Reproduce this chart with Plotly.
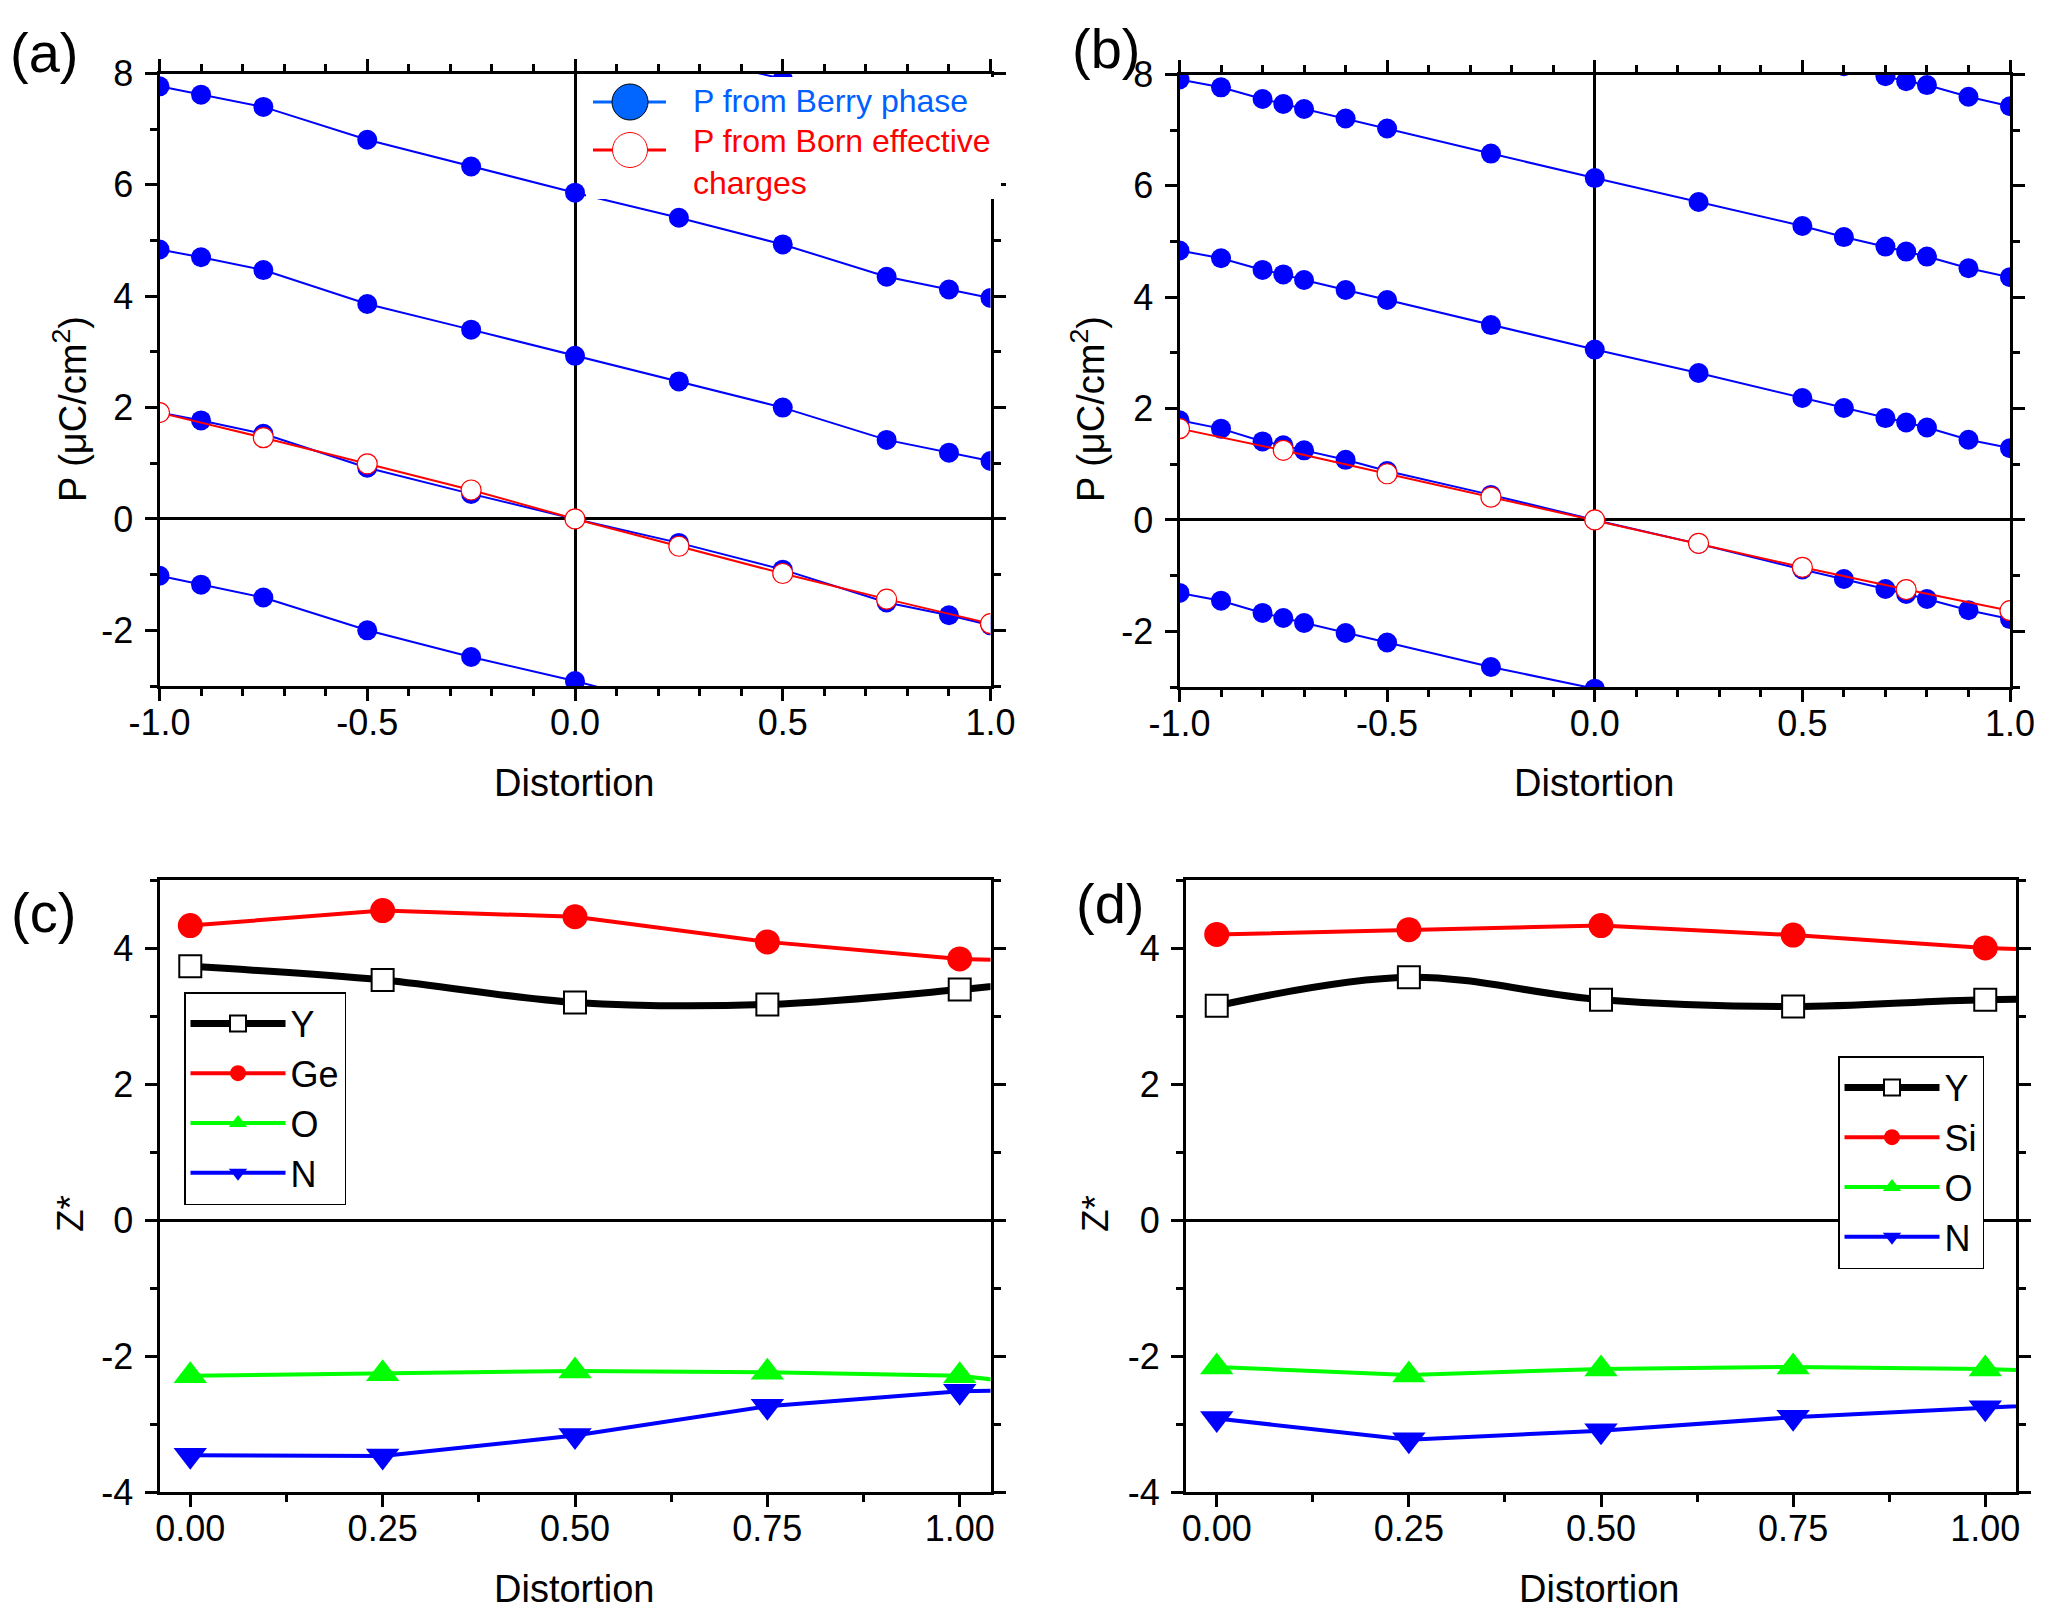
import plotly.graph_objects as go

W, H = 2052, 1620
OFF = 8  # page body margin offset of the rendered figure
FONT = "Liberation Sans, Arial, sans-serif"

# ---------------- data: panel (a) ----------------
a_x = [-1.0, -0.9, -0.75, -0.5, -0.25, 0.0, 0.25, 0.5, 0.75, 0.9, 1.0]
a_b0 = [None, None, None, None, None, None, 8.35, 7.90, 7.28, 7.05, 6.90]
a_b1 = [7.77, 7.62, 7.40, 6.81, 6.33, 5.86, 5.41, 4.93, 4.35, 4.12, 3.97]
a_b2 = [4.84, 4.70, 4.47, 3.86, 3.40, 2.93, 2.47, 2.00, 1.42, 1.19, 1.04]
a_b3 = [1.91, 1.77, 1.53, 0.92, 0.45, 0.00, -0.43, -0.91, -1.50, -1.73, -1.91]
a_b4 = [-1.02, -1.18, -1.41, -2.00, -2.48, -2.91, -3.40, None, None, None, None]
a_born_x = [-1.0, -0.75, -0.5, -0.25, 0.0, 0.25, 0.5, 0.75, 1.0]
a_born = [1.91, 1.46, 0.99, 0.52, 0.0, -0.49, -0.98, -1.44, -1.88]

# ---------------- data: panel (b) ----------------
b_x = [-1.0, -0.9, -0.8, -0.75, -0.7, -0.6, -0.5, -0.25, 0.0, 0.25, 0.5, 0.6, 0.7, 0.75, 0.8, 0.9, 1.0]
b_b0 = [None] * 10 + [8.35, 8.15, 7.97, 7.88, 7.81, 7.60, 7.43]
b_b1 = [7.91, 7.77, 7.56, 7.47, 7.38, 7.21, 7.03, 6.58, 6.14, 5.71, 5.28, 5.08, 4.91, 4.82, 4.73, 4.52, 4.36]
b_b2 = [4.84, 4.70, 4.49, 4.41, 4.31, 4.13, 3.95, 3.50, 3.06, 2.64, 2.19, 2.01, 1.83, 1.75, 1.66, 1.44, 1.29]
b_b3 = [1.79, 1.64, 1.41, 1.34, 1.25, 1.08, 0.88, 0.45, 0.00, -0.43, -0.89, -1.06, -1.24, -1.33, -1.42, -1.62, -1.78]
b_b4 = [-1.31, -1.45, -1.67, -1.76, -1.85, -2.03, -2.20, -2.64, -3.03, -3.46] + [None] * 7
b_born_x = [-1.0, -0.75, -0.5, -0.25, 0.0, 0.25, 0.5, 0.75, 1.0]
b_born = [1.64, 1.25, 0.83, 0.41, 0.0, -0.42, -0.85, -1.25, -1.63]

# ---------------- data: panels (c) and (d) ----------------
z_x = [0.0, 0.25, 0.5, 0.75, 1.0, 1.25]
c_Y = [3.73, 3.53, 3.20, 3.17, 3.39, 3.70]
c_Ge = [4.33, 4.55, 4.46, 4.09, 3.84, 3.76]
c_O = [-2.29, -2.26, -2.22, -2.24, -2.29, -2.62]
c_N = [-3.46, -3.47, -3.17, -2.74, -2.52, -2.47]
d_Y = [3.15, 3.57, 3.24, 3.14, 3.24, 3.24]
d_Si = [4.20, 4.27, 4.33, 4.19, 4.00, 3.90]
d_O = [-2.16, -2.28, -2.19, -2.16, -2.19, -2.30]
d_N = [-2.92, -3.23, -3.10, -2.90, -2.76, -2.62]

# ---------------- tick labels ----------------
p_xticks = [-1.0, -0.5, 0.0, 0.5, 1.0]
p_xtext = ["-1.0", "-0.5", "0.0", "0.5", "1.0"]
p_yticks = [-2, 0, 2, 4, 6, 8]
p_ytext = ["-2", "0", "2", "4", "6", "8"]
z_xticks = [0.0, 0.25, 0.5, 0.75, 1.0]
z_xtext = ["0.00", "0.25", "0.50", "0.75", "1.00"]
z_yticks = [-4, -2, 0, 2, 4]
z_ytext = ["-4", "-2", "0", "2", "4"]

BLUE = "#0000FF"
RED = "#FF0000"
GREEN = "#00FF00"


def px(x):
    return (x - OFF) / W


def py(y):
    return 1 - (y - OFF) / H


def xd(p0, p1):
    return [px(p0), px(p1)]


def yd(p0, p1):
    return [py(p1), py(p0)]


fig = go.Figure()

# panel (a) and (b) Berry-phase branches + Born traces
for xa, ya, xs, branches, bx, by in [
    ("x", "y", a_x, [a_b0, a_b1, a_b2, a_b3, a_b4], a_born_x, a_born),
    ("x2", "y2", b_x, [b_b0, b_b1, b_b2, b_b3, b_b4], b_born_x, b_born),
]:
    for br in branches:
        fig.add_trace(go.Scatter(
            x=xs, y=br, xaxis=xa, yaxis=ya, mode="lines+markers",
            line=dict(color=BLUE, width=2),
            marker=dict(color=BLUE, size=20, line=dict(width=0)),
            showlegend=False, connectgaps=False))
    fig.add_trace(go.Scatter(
        x=bx, y=by, xaxis=xa, yaxis=ya, mode="lines+markers",
        line=dict(color=RED, width=2),
        marker=dict(color="white", size=20, line=dict(color=RED, width=1.2)),
        showlegend=False))

# panels (c) and (d)
for xa, ya, leg, series in [
    ("x3", "y3", "legend2", [("Y", c_Y), ("Ge", c_Ge), ("O", c_O), ("N", c_N)]),
    ("x4", "y4", "legend3", [("Y", d_Y), ("Si", d_Si), ("O", d_O), ("N", d_N)]),
]:
    styles = [
        dict(line=dict(color="black", width=7, shape="spline", smoothing=1.0),
             marker=dict(symbol="square", size=22, color="white", line=dict(color="black", width=2))),
        dict(line=dict(color=RED, width=4),
             marker=dict(symbol="circle", size=25, color=RED, line=dict(width=0))),
        dict(line=dict(color=GREEN, width=4),
             marker=dict(symbol="triangle-up", size=29, color=GREEN, line=dict(width=0))),
        dict(line=dict(color=BLUE, width=4),
             marker=dict(symbol="triangle-down", size=29, color=BLUE, line=dict(width=0))),
    ]
    for (name, vals), st in zip(series, styles):
        fig.add_trace(go.Scatter(x=z_x, y=vals, xaxis=xa, yaxis=ya, name=name,
                                 mode="lines+markers", legend=leg, **st))

tickfont = dict(family=FONT, size=36, color="black")
base = dict(showline=True, linecolor="black", linewidth=3, showgrid=False,
            ticks="outside", tickcolor="black", tickwidth=3, ticklen=12,
            tickfont=tickfont, tickmode="array", automargin=False)
minor = dict(ticks="outside", ticklen=7, tickwidth=3, tickcolor="black", showgrid=False)
XSO = -9   # x tick-label standoff
YSO = 4    # y tick-label standoff

layout = dict(
    width=W, height=H, margin=dict(l=0, r=0, t=0, b=0, pad=0, autoexpand=False),
    paper_bgcolor="white", plot_bgcolor="white",
    font=dict(family=FONT, color="black"),
    xaxis=dict(base, domain=xd(159.5, 990.5), range=[-1, 1], tickvals=p_xticks, ticktext=p_xtext,
               minor=dict(minor, dtick=0.1, tick0=0), mirror="allticks", anchor="y",
               ticklabelstandoff=XSO,
               zeroline=True, zerolinecolor="black", zerolinewidth=3),
    yaxis=dict(base, domain=yd(73.5, 686), range=[-3, 8], tickvals=p_yticks, ticktext=p_ytext,
               minor=dict(minor, dtick=1, tick0=0), mirror="allticks", anchor="x",
               ticklabelstandoff=YSO,
               zeroline=True, zerolinecolor="black", zerolinewidth=3),
    xaxis2=dict(base, domain=xd(1179.5, 2010), range=[-1, 1], tickvals=p_xticks, ticktext=p_xtext,
                minor=dict(minor, dtick=0.1, tick0=0), mirror="allticks", anchor="y2",
                ticklabelstandoff=XSO,
                zeroline=True, zerolinecolor="black", zerolinewidth=3),
    yaxis2=dict(base, domain=yd(74.5, 687), range=[-3, 8], tickvals=p_yticks, ticktext=p_ytext,
                minor=dict(minor, dtick=1, tick0=0), mirror="allticks", anchor="x2",
                ticklabelstandoff=YSO,
                zeroline=True, zerolinecolor="black", zerolinewidth=3),
    xaxis3=dict(base, domain=xd(159.5, 990.5), range=[-0.04, 1.04], tickvals=z_xticks, ticktext=z_xtext,
                minor=dict(minor, dtick=0.25, tick0=0.125), mirror=True, anchor="y3", zeroline=False,
                ticklabelstandoff=XSO),
    yaxis3=dict(base, domain=yd(880, 1492), range=[-4, 5], tickvals=z_yticks, ticktext=z_ytext,
                minor=dict(minor, dtick=1, tick0=0), mirror="allticks", anchor="x3",
                ticklabelstandoff=YSO,
                zeroline=True, zerolinecolor="black", zerolinewidth=3),
    xaxis4=dict(base, domain=xd(1186, 2016), range=[-0.04, 1.04], tickvals=z_xticks, ticktext=z_xtext,
                minor=dict(minor, dtick=0.25, tick0=0.125), mirror=True, anchor="y4", zeroline=False,
                ticklabelstandoff=XSO),
    yaxis4=dict(base, domain=yd(880, 1492), range=[-4, 5], tickvals=z_yticks, ticktext=z_ytext,
                minor=dict(minor, dtick=1, tick0=0), mirror="allticks", anchor="x4",
                ticklabelstandoff=YSO,
                zeroline=True, zerolinecolor="black", zerolinewidth=3),
    legend2=dict(x=px(184), y=py(992), xanchor="left", yanchor="top",
                 bgcolor="white", bordercolor="black", borderwidth=1.5,
                 font=dict(family=FONT, size=36, color="black"), itemwidth=95,
                 tracegroupgap=0),
    legend3=dict(x=px(1838), y=py(1056), xanchor="left", yanchor="top",
                 bgcolor="white", bordercolor="black", borderwidth=1.5,
                 font=dict(family=FONT, size=36, color="black"), itemwidth=95,
                 tracegroupgap=0),
    showlegend=True,
)
fig.update_layout(**layout)

# ---------- manual legend for panel (a) (large symbols) ----------
shapes = [
    dict(type="rect", xref="paper", yref="paper", x0=px(586), x1=px(1001), y0=py(77), y1=py(199),
         fillcolor="white", line=dict(width=0), layer="above"),
    dict(type="line", xref="paper", yref="paper", x0=px(593), x1=px(666), y0=py(102), y1=py(102),
         line=dict(color="#0066FF", width=3), layer="above"),
    dict(type="circle", xref="paper", yref="paper", x0=px(612), x1=px(648), y0=py(84), y1=py(120),
         fillcolor="#0066FF", line=dict(color="black", width=1), layer="above"),
    dict(type="line", xref="paper", yref="paper", x0=px(593), x1=px(666), y0=py(150), y1=py(150),
         line=dict(color=RED, width=3), layer="above"),
    dict(type="circle", xref="paper", yref="paper", x0=px(612.5), x1=px(647.5), y0=py(132.5), y1=py(167.5),
         fillcolor="white", line=dict(color=RED, width=1), layer="above"),
]
fig.update_layout(shapes=shapes)

ann = []
ann.append(dict(text="P from Berry phase", x=px(691), y=py(101), xref="paper", yref="paper",
                xanchor="left", yanchor="middle", showarrow=False,
                font=dict(family=FONT, size=32, color="#0060FF")))
ann.append(dict(text="P from Born effective<br>charges", x=px(691), y=py(121), xref="paper", yref="paper",
                xanchor="left", yanchor="top", align="left", showarrow=False,
                font=dict(family=FONT, size=32, color=RED)))

# panel labels
for t, x, y in [("(a)", 43.5, 52.5), ("(b)", 1106, 48), ("(c)", 43, 912), ("(d)", 1110, 903)]:
    ann.append(dict(text=t, x=px(x), y=py(y), xref="paper", yref="paper", showarrow=False,
                    xanchor="center", yanchor="middle", font=dict(family=FONT, size=56, color="black")))

# axis titles
for x, y in [(574, 783), (1594, 783), (574, 1589), (1599, 1589)]:
    ann.append(dict(text="Distortion", x=px(x), y=py(y), xref="paper", yref="paper", showarrow=False,
                    xanchor="center", yanchor="middle", font=dict(family=FONT, size=38, color="black")))
for x in [70, 1088]:
    ann.append(dict(text="P (\u03bcC/cm<sup>2</sup>)", x=px(x), y=py(409), xref="paper", yref="paper",
                    showarrow=False, textangle=-90, xanchor="center", yanchor="middle",
                    font=dict(family=FONT, size=38, color="black")))
for x in [70, 1095]:
    ann.append(dict(text="Z*", x=px(x), y=py(1214), xref="paper", yref="paper",
                    showarrow=False, textangle=-90, xanchor="center", yanchor="middle",
                    font=dict(family=FONT, size=37, color="black")))
fig.update_layout(annotations=ann)

fig.write_html("out.html")
